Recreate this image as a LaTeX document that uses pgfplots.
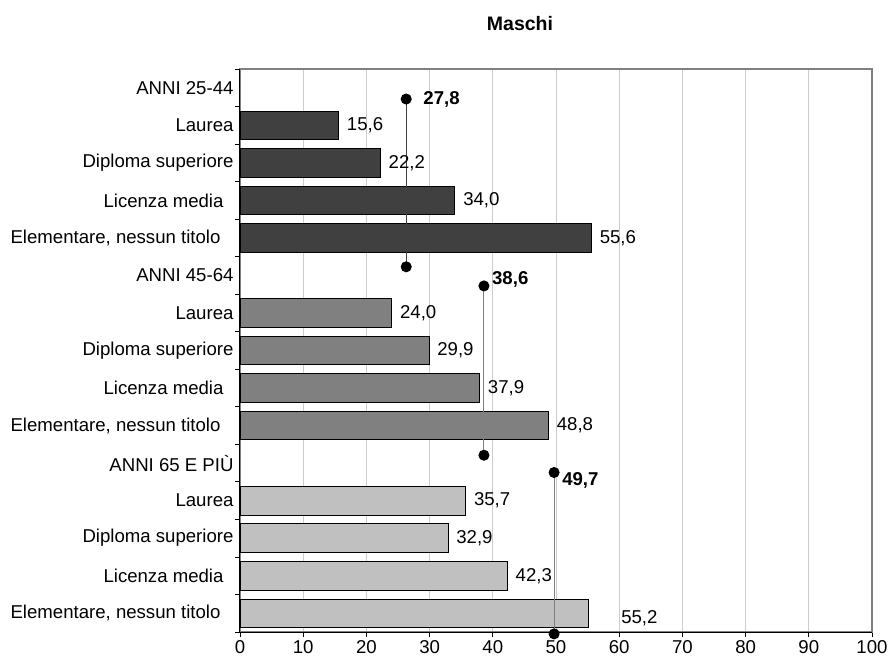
\documentclass[border=0pt]{standalone}
\usepackage{fontspec}
\setmainfont{Liberation Sans}
\usepackage{pgfplots}
\usepackage{pgfplotstable}
\pgfplotsset{compat=1.18}

\definecolor{gA}{HTML}{404040}
\definecolor{gB}{HTML}{808080}
\definecolor{gC}{HTML}{C0C0C0}
\definecolor{gridc}{HTML}{CCCCCC}
\definecolor{boxc}{HTML}{808080}

\newcommand\lab{\fontsize{18.6bp}{21bp}\selectfont}

% bars: value, row (0 = top)
\pgfplotstableread{
val row
15.6 1
22.2 2
34.0 3
55.6 4
}\annA
\pgfplotstableread{
val row
24.0 6
29.9 7
37.9 8
48.8 9
}\annB
\pgfplotstableread{
val row
35.7 11
32.9 12
42.3 13
}\annC
\pgfplotstableread{
val row
55.2 14
}\annCl

% vertical reference lines
\pgfplotstableread{
val row
26.3 0.30
26.3 4.77
}\lineA
\pgfplotstableread{
val row
38.6 5.28
38.6 9.79
}\lineB
\pgfplotstableread{
val row
49.7 10.25
49.7 14.55
}\lineC

\pgfplotsset{
  barlab/.style={
    point meta=x,
    nodes near coords={\pgfmathprintnumber[use comma,fixed,fixed zerofill,precision=1]{\pgfplotspointmeta}},
    nodes near coords style={font=\lab, text=black, anchor=west, inner sep=2bp, xshift=6bp},
  },
  avglab/.style 2 args={
    sharp plot, draw=none, no marks, point meta=explicit symbolic, nodes near coords,
    nodes near coords style={font=\lab\bfseries, text=black, anchor=west, inner sep=2bp,
      xshift=#1, yshift=#2},
  },
  refline/.style={sharp plot, #1, line width=1bp, mark=*, mark size=5bp,
    mark options={fill=black, draw=black}},
}

\begin{document}
\begin{tikzpicture}
\begin{axis}[
  name=ax,
  scale only axis, width=632bp, height=563bp,
  xmin=0, xmax=100, ymin=-0.5, ymax=14.5, y dir=reverse,
  xbar, bar width=28.6bp, bar shift=0pt,
  xtick={0,10,...,100},
  ytick={-0.5,0.5,...,14.5}, yticklabels={},
  extra y ticks={0,...,14},
  extra y tick labels={ANNI 25-44, Laurea, Diploma superiore, Licenza media\kern10bp, {Elementare, nessun titolo\kern13bp},
    ANNI 45-64, Laurea, Diploma superiore, Licenza media\kern10bp, {Elementare, nessun titolo\kern13bp},
    ANNI 65 E PIÙ, Laurea, Diploma superiore, Licenza media\kern10bp, {Elementare, nessun titolo\kern13bp}},
  extra y tick style={major tick length=0pt, yticklabel style={xshift=-3bp}},
  xtick pos=bottom, ytick pos=left,
  tick align=outside, major tick length=5bp,
  tick style={black, line width=0.8bp},
  xmajorgrids, grid style={gridc, line width=1bp},
  axis line style={boxc, line width=1.5bp},
  tick label style={font=\lab},
  /pgf/number format/assume math mode=true,
  clip=false,
  title={Maschi},
  title style={at={(axis description cs:0.443,1)}, anchor=center, yshift=39bp,
    font=\fontsize{19.5bp}{22bp}\selectfont\bfseries},
]
\addplot[fill=gA, draw=black, line width=0.8bp, barlab] table[x=val, y=row] {\annA};
\addplot[fill=gB, draw=black, line width=0.8bp, barlab] table[x=val, y=row] {\annB};
\addplot[fill=gC, draw=black, line width=0.8bp, barlab] table[x=val, y=row] {\annC};
\addplot[fill=gC, draw=black, line width=0.8bp, barlab,
  nodes near coords style={xshift=24bp, yshift=-5bp}] table[x=val, y=row] {\annCl};

\addplot[refline=gA] table[x=val, y=row] {\lineA};
\addplot[refline=gB] table[x=val, y=row] {\lineB};
\addplot[refline=gB] table[x=val, y=row] {\lineC};

\addplot[avglab={15bp}{0bp}] coordinates {(26.3,0.30) [27,8]};
\addplot[avglab={6bp}{7bp}] coordinates {(38.6,5.28) [38,6]};
\addplot[avglab={6bp}{-8bp}] coordinates {(49.7,10.25) [49,7]};

\draw[black, line width=1bp] (axis description cs:0,1) -- (axis description cs:0,0) -- (axis description cs:1,0);
\end{axis}
\pgfresetboundingbox
\path[use as bounding box] ([shift={(-240bp,-33bp)}]ax.south west) rectangle ([shift={(19bp,69bp)}]ax.north east);
\end{tikzpicture}
\end{document}
